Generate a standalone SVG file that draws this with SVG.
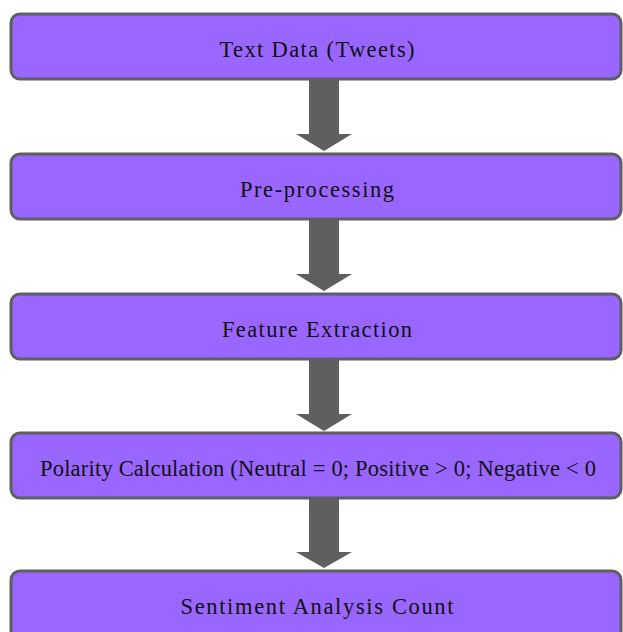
<svg xmlns="http://www.w3.org/2000/svg" width="623" height="632" viewBox="0 0 623 632">
<style>
.box{fill:#9966ff;stroke:#5f5f5f;stroke-width:3}
.lbl{font-family:"Liberation Serif","DejaVu Serif",serif;font-size:22.5px;fill:#111;text-anchor:middle}
.arr{fill:#5f5f5f}
</style>
<rect width="623" height="632" fill="#fff"/>
<g id="connectors">
<polygon class="arr" points="309,80 339,80 339,134 352,134 324,151 296,134 309,134"/>
<polygon class="arr" points="309,220 339,220 339,274 352,274 324,291 296,274 309,274"/>
<polygon class="arr" points="309,360 339,360 339,414 352,414 324,431 296,414 309,414"/>
<polygon class="arr" points="309,499 339,499 339,552 352,552 324,568 296,552 309,552"/>
</g>
<g id="n1"><rect class="box" x="11" y="14" width="610" height="65" rx="9"/><text class="lbl" x="317" y="57" textLength="195">Text Data (Tweets)</text></g>
<g id="n2"><rect class="box" x="11" y="154" width="610" height="65" rx="9"/><text class="lbl" x="317" y="197" textLength="154">Pre-processing</text></g>
<g id="n3"><rect class="box" x="11" y="294" width="610" height="65" rx="9"/><text class="lbl" x="317" y="337" textLength="190">Feature Extraction</text></g>
<g id="n4"><rect class="box" x="11" y="433" width="610" height="65" rx="9"/><text class="lbl" x="318" y="476" textLength="556">Polarity Calculation (Neutral = 0; Positive &gt; 0; Negative &lt; 0</text></g>
<g id="n5"><rect class="box" x="11" y="571" width="610" height="70" rx="9"/><text class="lbl" x="317" y="614" textLength="273">Sentiment Analysis Count</text></g>
</svg>
